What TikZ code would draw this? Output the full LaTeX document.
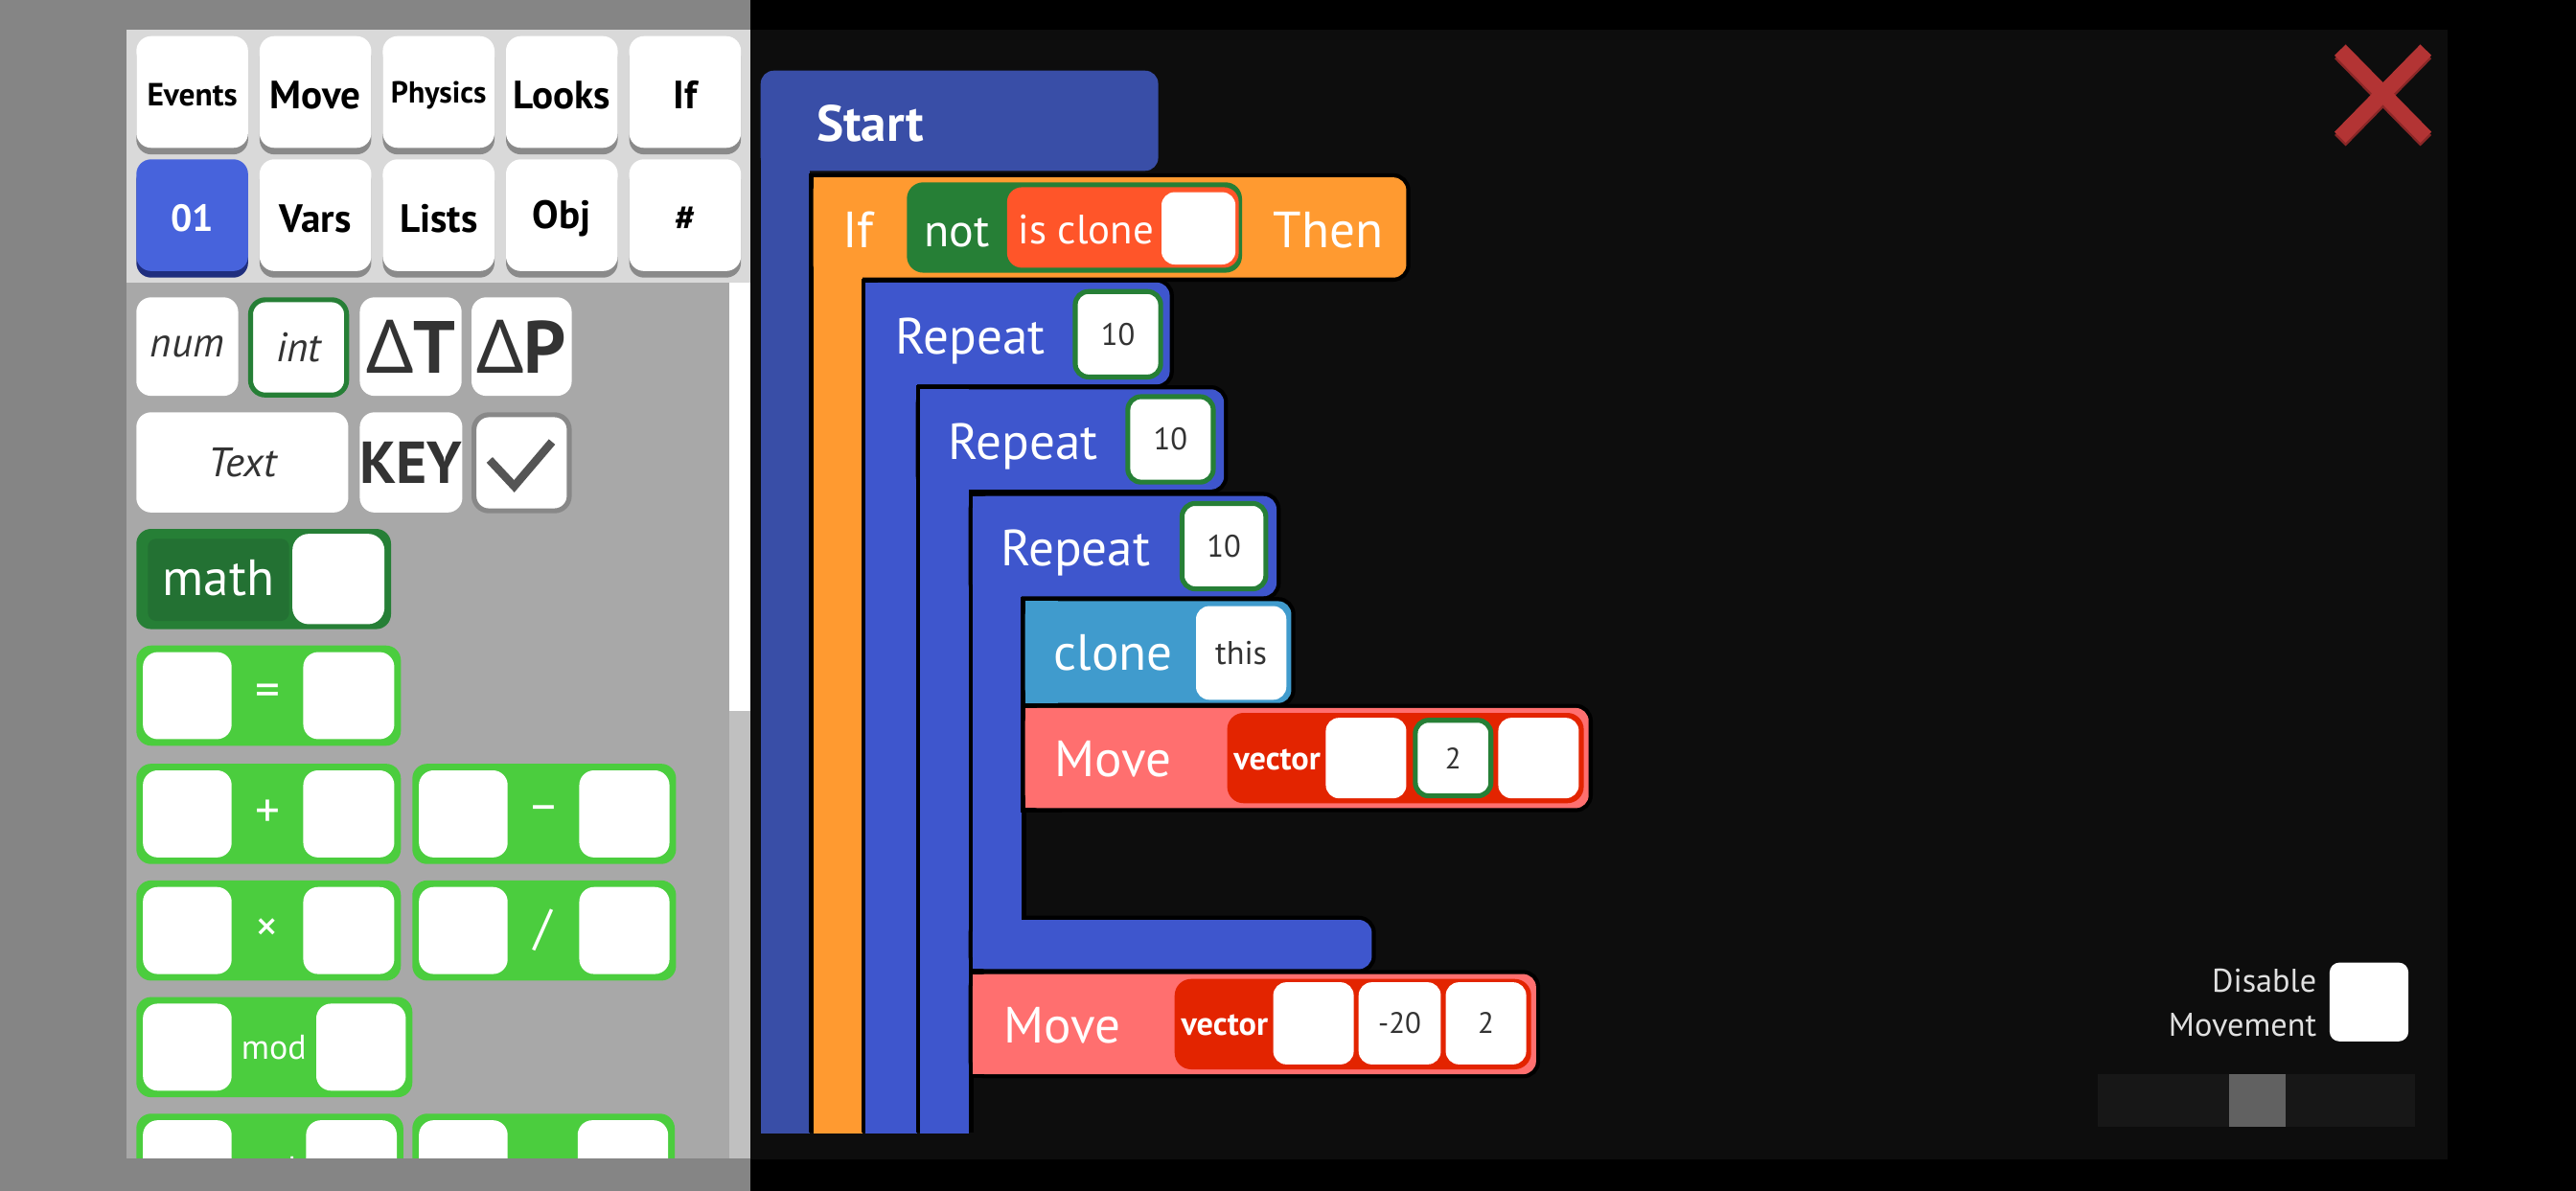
\documentclass[tikz,border=0pt]{standalone}
\usepackage{fontspec}
\setmainfont{PT Sans}
\newfontfamily\notofont{Noto Sans}
\newcommand{\myfs}[1]{\fontsize{#1}{#1}\selectfont}
\definecolor{outgrey}{HTML}{858585}
\definecolor{palbg}{HTML}{A8A8A8}
\definecolor{tabbg}{HTML}{D9D9D9}
\definecolor{scrollgrey}{HTML}{C0C0C0}
\definecolor{tabshadow}{HTML}{8A8A8A}
\definecolor{tabblue}{HTML}{4763DC}
\definecolor{tabblueshadow}{HTML}{1F2E7E}
\definecolor{textdark}{HTML}{333333}
\definecolor{codebg}{HTML}{0D0D0D}
\definecolor{startblue}{HTML}{394EA7}
\definecolor{iforange}{HTML}{FF9A30}
\definecolor{repblue}{HTML}{3E56CD}
\definecolor{darkgreen}{HTML}{267F36}
\definecolor{mathinner}{HTML}{237133}
\definecolor{clonered}{HTML}{FF5529}
\definecolor{clonebl}{HTML}{409BCD}
\definecolor{movesal}{HTML}{FF6F6F}
\definecolor{vecred}{HTML}{E32400}
\definecolor{opgreen}{HTML}{4BCD3E}
\definecolor{xred}{HTML}{B33434}
\definecolor{xshade}{HTML}{8A2727}
\definecolor{slidebg}{HTML}{171717}
\definecolor{slidethumb}{HTML}{616161}
\definecolor{checkgrey}{HTML}{555555}
\definecolor{checkborder}{HTML}{888888}
\definecolor{lighttext}{HTML}{E0E0E0}
\tikzset{
  every node/.style={inner sep=0pt, outer sep=0pt},
  palbox/.style={fill=white, rounded corners=9pt, anchor=north west, text=textdark},
  blabel/.style={anchor=base west, text=white, font={\myfs{31}}},
  valbox/.style={fill=white, rounded corners=8pt, text=textdark},
  greenval/.style={valbox, draw=darkgreen, line width=3pt},
  vlabel/.style={anchor=base west, text=white, font={\myfs{20}\bfseries}},
  outline/.style={draw=black, line width=5pt},
}
% tab button: name, x, y, fill, shadow, text
\newcommand{\tabbtn}[6]{%
  \fill[#5, rounded corners=9pt] (#2,#3+4) rectangle (#2+68,#3+72);
  \fill[#4, rounded corners=9pt] (#2,#3) rectangle (#2+68,#3+68);
  \node (#1) at (#2+34,#3+36) {\bfseries #6};
}
% operator block: name, x1, y1, x2, symbol, right box left, text shift
\newcommand{\opblk}[7]{%
  \fill[opgreen, rounded corners=9pt] (#2,#3) rectangle (#4,#3+61);
  \fill[white, rounded corners=9pt] (#2+4,#3+4) rectangle (#2+58,#3+57);
  \fill[white, rounded corners=9pt] (#6,#3+4) rectangle (#4-4,#3+57);
  \node[text=white] (#1) at ({(#2+58+#6)/2},#3+30.5+#7) {#5};
}
% C block: colour, x1, yTop, x2, yHeadBottom, barRight, barBottom, barTop
\newcommand{\cblk}[8]{%
  \draw[outline, rounded corners=8pt] (#2,#3) rectangle (#4,#5);
  \draw[outline] (#2,#8) rectangle (#6,#7-3);
  \fill[#1, rounded corners=8pt] (#2,#3) rectangle (#4,#5);
  \fill[#1] (#2,#8) rectangle (#6,#7);
}
% block rounded on the right: colour, x1, y1, x2, y2
\newcommand{\rblk}[5]{%
  \draw[outline, rounded corners=8pt] (#2,#3) rectangle (#4,#5);
  \draw[outline] (#2,#3) rectangle (#2+20,#5);
  \fill[#1, rounded corners=8pt] (#2,#3) rectangle (#4,#5);
  \fill[#1] (#2,#3) rectangle (#2+20,#5);
}
\begin{document}
\begin{tikzpicture}[x=1pt,y=-1pt]
\useasboundingbox (0,0) rectangle (1568,725);
\fill[black] (0,0) rectangle (1568,725);
\fill[outgrey] (0,0) rectangle (457,725);
\fill[codebg] (457,18) rectangle (1490,706);
% ---------------- palette ----------------
\fill[palbg] (77,18) rectangle (444,705);
\fill[tabbg] (77,18) rectangle (457,172);
\fill[white] (444,172) rectangle (457,433);
\fill[scrollgrey] (444,433) rectangle (457,705);

\tabbtn{tEvents}{83}{22}{white}{tabshadow}{\myfs{19.5}Events}
\tabbtn{tMove}{158}{22}{white}{tabshadow}{\myfs{24}Move}
\tabbtn{tPhys}{233}{22}{white}{tabshadow}{\myfs{18.5}Physics}
\tabbtn{tLooks}{308}{22}{white}{tabshadow}{\myfs{24}Looks}
\tabbtn{tIf}{383}{22}{white}{tabshadow}{\myfs{24}If}
\tabbtn{tZeroOne}{83}{97}{tabblue}{tabblueshadow}{\color{white}\myfs{23}01}
\tabbtn{tVars}{158}{97}{white}{tabshadow}{\myfs{24}Vars}
\tabbtn{tLists}{233}{97}{white}{tabshadow}{\myfs{24}Lists}
\tabbtn{tObj}{308}{97}{white}{tabshadow}{\myfs{24}Obj}
\tabbtn{tHash}{383}{97}{white}{tabshadow}{\myfs{22}\#}

\node[palbox, minimum width=62pt, minimum height=60pt] (pnum) at (83,181) {\myfs{25}\itshape num};
\node[palbox, draw=darkgreen, line width=3pt, minimum width=58.5pt, minimum height=58pt] (pint) at (152.5,182.5) {\myfs{25}\itshape int};
\node[palbox, minimum width=62pt, minimum height=60pt] (pdt) at (219,181) {\myfs{45}{\notofont\bfseries Δ}\bfseries T};
\node[palbox, minimum width=61pt, minimum height=60pt] (pdp) at (287,181) {\myfs{45}{\notofont\bfseries Δ}\bfseries P};
\node[palbox, minimum width=129pt, minimum height=61pt] (ptext) at (83,251) {\myfs{25}\itshape Text};
\node[palbox, minimum width=62pt, minimum height=61pt] (pkey) at (219,251) {\myfs{36}\bfseries KEY};
\node[palbox, draw=checkborder, line width=3pt, minimum width=58pt, minimum height=58.5pt] (pcheck) at (288.5,252.5) {};
\draw[checkgrey, line width=5pt] (298,280) -- (313,296) -- (336,269);

\fill[darkgreen, rounded corners=9pt] (83,322) rectangle (238,383);
\fill[mathinner, rounded corners=5pt] (90,328) rectangle (176,378);
\node[text=white] (pmath) at (133,352) {\myfs{31}math};
\fill[white, rounded corners=10pt] (178,325) rectangle (234,380);

\opblk{peq}{83}{393}{244}{\myfs{30}=}{184.6}{0}
\opblk{pplus}{83}{465}{244}{\myfs{30}+}{184.6}{0}
\opblk{pminus}{251}{465}{411.5}{\myfs{30}–}{352.6}{0}
\opblk{ptimes}{83}{536}{244}{\myfs{28}×}{184.6}{0}
\opblk{pdiv}{251}{536}{411.5}{\myfs{30}/}{352.6}{0}
\opblk{pmod}{83}{607}{251}{\myfs{21}mod}{192.5}{0}
\begin{scope}
\clip (77,18) rectangle (444,705);
\opblk{pand}{83}{678}{245.5}{\myfs{21}and}{186.3}{3}
\opblk{por}{251}{678}{410.7}{\myfs{21}or}{351.6}{3}
\end{scope}

% ---------------- code area ----------------
\fill[startblue, rounded corners=8pt] (463,43) rectangle (705,104);
\fill[startblue] (463,70) rectangle (493,690);
\node[blabel, font={\myfs{31}\bfseries}] (lstart) at (497,86) {Start};

\cblk{iforange}{495}{108}{856}{169}{525}{690}{108}
\node[blabel] (lif) at (513,150.5) {If};
\fill[darkgreen, rounded corners=10pt] (552,111) rectangle (756,166);
\node[blabel, font={\myfs{28}}] (lnot) at (562.5,150) {not};
\fill[clonered, rounded corners=9pt] (613,114) rectangle (754,163);
\node[blabel, font={\myfs{25}}] (lisclone) at (620,148.5) {is clone};
\node[valbox, minimum width=45pt, minimum height=44pt, anchor=north west] (visclone) at (707,117) {};
\node[blabel] (lthen) at (775,150.5) {Then};

\cblk{repblue}{527}{172}{712}{234}{558}{690}{172}
\node[blabel] (lrep1) at (545,215.5) {Repeat};
\node[greenval, minimum width=52pt, minimum height=52pt] (vrep1) at (680.5,203.5) {\myfs{19}10};

\cblk{repblue}{560}{237}{745}{298}{590}{690}{237}
\node[blabel] (lrep2) at (577,279.5) {Repeat};
\node[greenval, minimum width=52pt, minimum height=52pt] (vrep2) at (712.5,267.5) {\myfs{19}10};

% Repeat 3 with its foot
\draw[outline, rounded corners=8pt] (592,302) rectangle (777,363);
\draw[outline] (592,302) rectangle (622,590);
\draw[outline, rounded corners=8pt] (592,560) rectangle (835,590);
\fill[repblue, rounded corners=8pt] (592,302) rectangle (777,363);
\fill[repblue, rounded corners=8pt] (592,560) rectangle (835,590);
\fill[repblue] (592,302) rectangle (622,590);
\node[blabel] (lrep3) at (609,344.5) {Repeat};
\node[greenval, minimum width=51pt, minimum height=52pt] (vrep3) at (745,332.5) {\myfs{19}10};

\rblk{clonebl}{624}{366}{786}{428}
\node[blabel] (lclone) at (641.5,408) {clone};
\node[valbox, minimum width=55pt, minimum height=57pt, anchor=north west] (vthis) at (728,369) {\myfs{20}this};

\rblk{movesal}{624}{431}{967}{492}
\node[blabel] (lmove1) at (642,473) {Move};
\fill[vecred, rounded corners=10pt] (747,434) rectangle (964,489);
\node[vlabel] (lvec1) at (751,468.5) {vector};
\node[valbox, minimum width=49pt, minimum height=49pt, anchor=north west] (v1a) at (807,437) {};
\node[greenval, minimum width=46pt, minimum height=46pt] (v1b) at (884.5,461.5) {\myfs{18}2};
\node[valbox, minimum width=49pt, minimum height=49pt, anchor=north west] (v1c) at (912,437) {};

\rblk{movesal}{592}{593}{935}{654}
\node[blabel] (lmove2) at (611,635) {Move};
\fill[vecred, rounded corners=10pt] (715,596) rectangle (932,651);
\node[vlabel] (lvec2) at (719,630.5) {vector};
\node[valbox, minimum width=49pt, minimum height=50pt, anchor=north west] (v2a) at (775,598) {};
\node[valbox, minimum width=50pt, minimum height=50pt, anchor=north west] (v2b) at (827,598) {\myfs{18}-20};
\node[valbox, minimum width=49pt, minimum height=50pt, anchor=north west] (v2c) at (880,598) {\myfs{18}2};

% close cross
\draw[xshade, line width=9.5pt] (1424.4,32.4) -- (1476.6,85.6);
\draw[xshade, line width=9.5pt] (1476.6,32.4) -- (1424.4,85.6);
\draw[xred, line width=9.5pt] (1424.4,30.4) -- (1476.6,83.6);
\draw[xred, line width=9.5pt] (1476.6,30.4) -- (1424.4,83.6);

% disable movement
\node[anchor=base east, text=lighttext, font={\myfs{20}}] (ldis1) at (1410,604) {Disable};
\node[anchor=base east, text=lighttext, font={\myfs{20}}] (ldis2) at (1410,631) {Movement};
\node[valbox, minimum width=48pt, minimum height=48pt, anchor=north west, rounded corners=6pt] (vdis) at (1418,586) {};
\fill[slidebg] (1277,654) rectangle (1470,686);
\fill[slidethumb] (1357,654) rectangle (1391,686);
\end{tikzpicture}
\end{document}
